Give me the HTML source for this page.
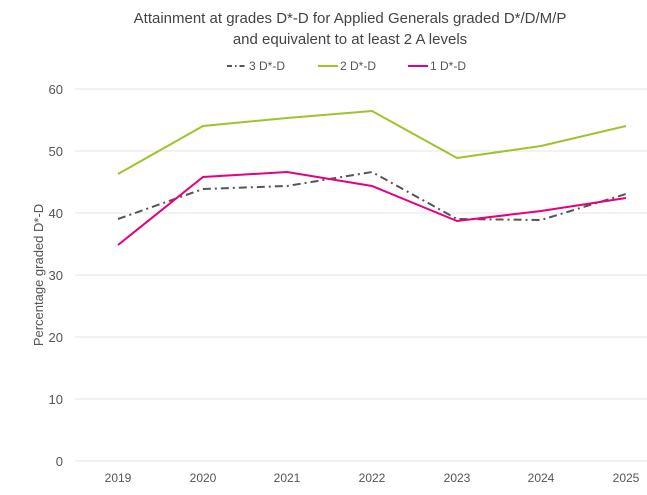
<!DOCTYPE html>
<html><head><style>body{margin:0;background:#fff}svg{display:block}</style></head>
<body>
<svg width="647" height="495" xmlns="http://www.w3.org/2000/svg" font-family="Liberation Sans, sans-serif">
<text x="350" y="23" text-anchor="middle" font-size="15" fill="#444">Attainment at grades D*-D for Applied Generals graded D*/D/M/P</text>
<text x="350" y="44" text-anchor="middle" font-size="15" fill="#444">and equivalent to at least 2 A levels</text>
<g font-size="12" fill="#555">
<line x1="227" y1="66" x2="247" y2="66" stroke="#555" stroke-width="2" stroke-dasharray="5,3,1.5,3"/>
<text x="249" y="70">3 D*-D</text>
<line x1="318" y1="66" x2="338" y2="66" stroke="#9dc42a" stroke-width="2"/>
<text x="340" y="70">2 D*-D</text>
<line x1="408" y1="66" x2="428" y2="66" stroke="#e6007e" stroke-width="2"/>
<text x="430" y="70">1 D*-D</text>
</g>
<g stroke="#e4e4e4" stroke-width="1">
<line x1="75" y1="89" x2="647" y2="89"/><line x1="75" y1="151" x2="647" y2="151"/><line x1="75" y1="213" x2="647" y2="213"/><line x1="75" y1="275" x2="647" y2="275"/><line x1="75" y1="337" x2="647" y2="337"/><line x1="75" y1="399" x2="647" y2="399"/><line x1="75" y1="461" x2="647" y2="461"/>
</g>
<g font-size="13" fill="#555" text-anchor="end">
<text x="63" y="94">60</text><text x="63" y="156">50</text><text x="63" y="218">40</text><text x="63" y="280">30</text><text x="63" y="342">20</text><text x="63" y="404">10</text><text x="63" y="466">0</text>
</g>
<g font-size="12" fill="#555" text-anchor="middle">
<text x="118" y="482">2019</text><text x="203" y="482">2020</text><text x="287" y="482">2021</text><text x="372" y="482">2022</text><text x="457" y="482">2023</text><text x="541" y="482">2024</text><text x="626" y="482">2025</text>
</g>
<text transform="translate(43,275) rotate(-90)" text-anchor="middle" font-size="13" fill="#555">Percentage graded D*-D</text>
<polyline fill="none" stroke="#9dc42a" stroke-width="2" points="118,174 203,126 287,118 372,111 457,158 541,146 626,126"/>
<polyline fill="none" stroke="#555" stroke-width="2" stroke-dasharray="8,4,2,4" points="118,219 203,189 287,186 372,172 457,219 541,220 626,194"/>
<polyline fill="none" stroke="#e6007e" stroke-width="2" points="118,245 203,177 287,172 372,186 457,221 541,211 626,198"/>
</svg>
</body></html>
